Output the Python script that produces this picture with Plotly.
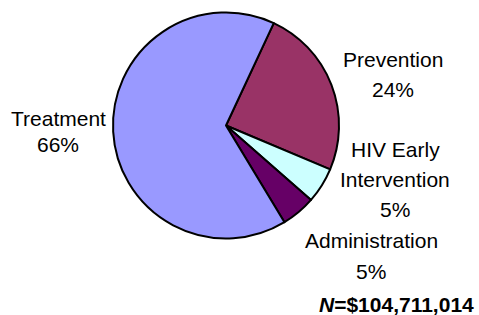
import plotly.graph_objects as go

categories = ["Prevention", "HIV Early Intervention", "Administration", "Treatment"]
values = [24.4, 5.1, 4.9, 65.6]
pct_labels = ["24%", "5%", "5%", "66%"]
label_lines = [["Prevention"], ["HIV Early", "Intervention"], ["Administration"], ["Treatment"]]
colors = ["#993366", "#CCFFFF", "#660066", "#9999FF"]
total_note = "<i>N</i>=$104,711,014"

# label block anchor: (center x, first-line y, line spacing) in pixels
label_pos = [(393, 59, 30), (395, 149, 30), (371, 240, 31), (58, 118, 27)]

W, H = 479, 315
FONT = "Liberation Sans, Arial, sans-serif"

fig = go.Figure()
fig.add_trace(go.Pie(
    labels=categories,
    values=values,
    sort=False,
    direction="clockwise",
    rotation=25,
    marker=dict(colors=colors, line=dict(color="black", width=2)),
    textinfo="none",
    hoverinfo="label+percent",
    showlegend=False,
    domain=dict(x=[113 / W, 339 / W], y=[1 - 239 / H, 1 - 12 / H]),
))

for (cx, y0, dy), lines, pct in zip(label_pos, label_lines, pct_labels):
    for i, t in enumerate(lines + [pct]):
        fig.add_annotation(
            x=cx / W, y=1 - (y0 + i * dy) / H, xref="paper", yref="paper",
            text=t, showarrow=False,
            font=dict(family=FONT, size=21, color="black"),
            xanchor="center", yanchor="middle",
        )

fig.add_annotation(
    x=476 / W, y=1 - 304 / H, xref="paper", yref="paper",
    text=total_note, showarrow=False,
    font=dict(family=FONT, size=21, color="black", weight="bold"),
    xanchor="right", yanchor="middle",
)

fig.update_layout(
    width=W, height=H,
    margin=dict(l=0, r=0, t=0, b=0),
    paper_bgcolor="white", plot_bgcolor="white",
)

fig.write_html(
    "out.html",
    config={"displayModeBar": False},
    post_script="document.body.style.margin='0px';",
)
